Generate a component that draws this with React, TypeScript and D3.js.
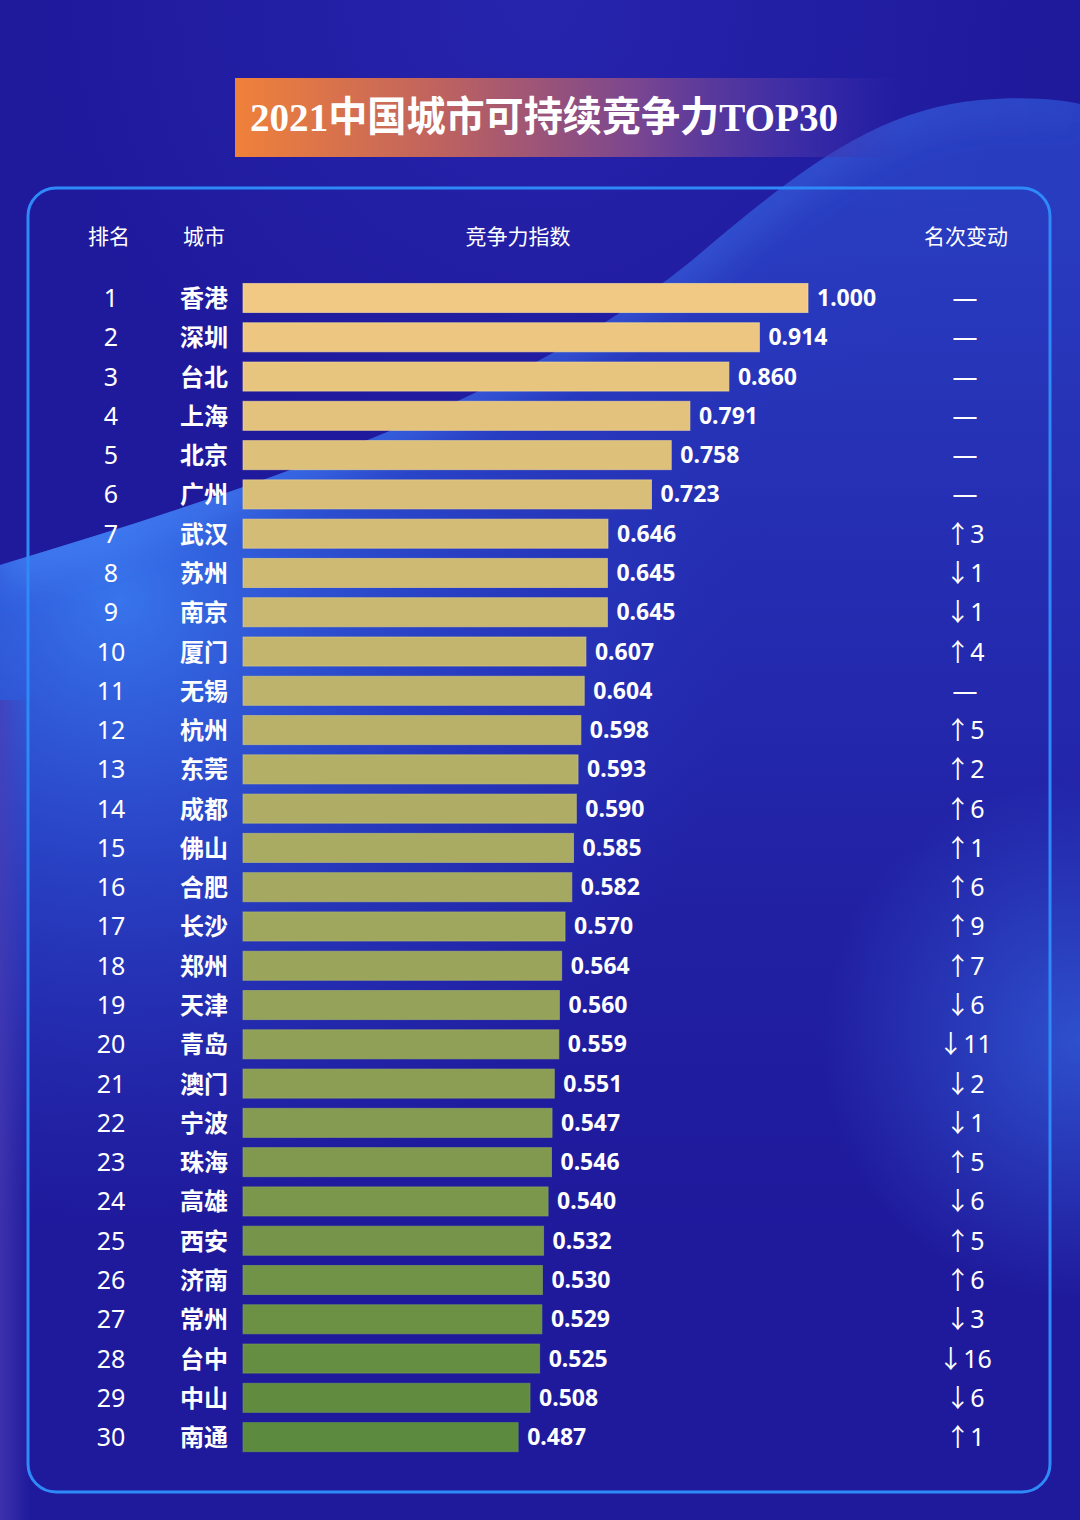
import React from 'react';
import * as d3 from 'd3';

const ranks = [1, 2, 3, 4, 5, 6, 7, 8, 9, 10, 11, 12, 13, 14, 15, 16, 17, 18, 19, 20, 21, 22, 23, 24, 25, 26, 27, 28, 29, 30];
const cities = ['香港', '深圳', '台北', '上海', '北京', '广州', '武汉', '苏州', '南京', '厦门', '无锡', '杭州', '东莞', '成都', '佛山', '合肥', '长沙', '郑州', '天津', '青岛', '澳门', '宁波', '珠海', '高雄', '西安', '济南', '常州', '台中', '中山', '南通'];
const values = [1.0, 0.914, 0.86, 0.791, 0.758, 0.723, 0.646, 0.645, 0.645, 0.607, 0.604, 0.598, 0.593, 0.59, 0.585, 0.582, 0.57, 0.564, 0.56, 0.559, 0.551, 0.547, 0.546, 0.54, 0.532, 0.53, 0.529, 0.525, 0.508, 0.487];
const changes = ['—', '—', '—', '—', '—', '—', '↑3', '↓1', '↓1', '↑4', '—', '↑5', '↑2', '↑6', '↑1', '↑6', '↑9', '↑7', '↓6', '↓11', '↓2', '↓1', '↑5', '↓6', '↑5', '↑6', '↓3', '↓16', '↓6', '↑1'];
const headers = ['排名', '城市', '竞争力指数', '名次变动'];
const title = '2021中国城市可持续竞争力TOP30';

const W = 1080;
const H = 1520;
const SANS = '"Noto Sans", "Noto Sans CJK SC", "DejaVu Sans", sans-serif';
const CJK = '"Noto Sans CJK SC", "Noto Sans", sans-serif';

export default function App() {
  const x = d3.scaleLinear().domain([0, 1]).range([243, 808]);
  const y = d3
    .scaleBand<number>()
    .domain(ranks)
    .range([278.36, 278.36 + 30 * 39.28])
    .paddingInner(0.26)
    .paddingOuter(0.13);
  const color = d3
    .scaleLinear<string>()
    .domain([1, 30])
    .range(['#f2c984', '#5c8a3e'])
    .interpolate(d3.interpolateRgb);
  const bw = y.bandwidth();
  const cy = (r: number) => (y(r) as number) + bw / 2;

  const blob = 'M0,565 C250,490 520,400 690,262 C790,178 870,110 980,100 C1030,96 1060,100 1080,104 L1080,1520 L0,1520 Z';
  const edge = 'M0,565 C250,490 520,400 690,262 C790,178 870,110 980,100 C1030,96 1060,100 1080,104';

  return (
    <svg
      width={W}
      height={H}
      viewBox={`0 0 ${W} ${H}`}
      style={{ position: 'absolute', left: 0, top: 0, display: 'block' }}
    >
      <defs>
        <linearGradient id="bandFill" x1="600" y1="200" x2="600" y2="1300" gradientUnits="userSpaceOnUse">
          <stop offset="0" stopColor="#2c48cc" stopOpacity="0.75" />
          <stop offset="0.5" stopColor="#2a3ec6" stopOpacity="0.35" />
          <stop offset="1" stopColor="#221c9e" stopOpacity="0" />
        </linearGradient>
        <radialGradient id="leftBright" cx="120" cy="600" r="620" gradientUnits="userSpaceOnUse">
          <stop offset="0" stopColor="#3a7cf2" stopOpacity="0.9" />
          <stop offset="0.45" stopColor="#2f5ee0" stopOpacity="0.5" />
          <stop offset="1" stopColor="#2a40c8" stopOpacity="0" />
        </radialGradient>
        <linearGradient id="edgeGrad" x1="0" y1="0" x2="1080" y2="0" gradientUnits="userSpaceOnUse">
          <stop offset="0" stopColor="#4a8cff" stopOpacity="0.6" />
          <stop offset="0.5" stopColor="#4a8cff" stopOpacity="0.35" />
          <stop offset="1" stopColor="#4a8cff" stopOpacity="0.12" />
        </linearGradient>
        <radialGradient id="rightGlow" cx="1080" cy="1040" r="260" gradientUnits="userSpaceOnUse">
          <stop offset="0" stopColor="#3466e0" stopOpacity="0.7" />
          <stop offset="1" stopColor="#3466e0" stopOpacity="0" />
        </radialGradient>
        <radialGradient id="topGlow" cx="540" cy="0" r="500" gradientUnits="userSpaceOnUse">
          <stop offset="0" stopColor="#2c2ab8" stopOpacity="0.6" />
          <stop offset="1" stopColor="#2c2ab8" stopOpacity="0" />
        </radialGradient>
        <linearGradient id="leftStrip" x1="0" y1="0" x2="30" y2="0" gradientUnits="userSpaceOnUse">
          <stop offset="0" stopColor="#4a3cb4" stopOpacity="0.7" />
          <stop offset="1" stopColor="#4a3cb4" stopOpacity="0" />
        </linearGradient>
        <linearGradient id="titleGrad" x1="235" y1="0" x2="905" y2="0" gradientUnits="userSpaceOnUse">
          <stop offset="0" stopColor="#f0813a" />
          <stop offset="0.3" stopColor="#c0635e" />
          <stop offset="0.6" stopColor="#7a4690" />
          <stop offset="0.85" stopColor="#4a34a8" stopOpacity="0.6" />
          <stop offset="1" stopColor="#3a2cac" stopOpacity="0" />
        </linearGradient>
        <filter id="blur20" x="-20%" y="-20%" width="140%" height="140%">
          <feGaussianBlur stdDeviation="18" />
        </filter>
        <clipPath id="blobClip">
          <path d={blob} />
        </clipPath>
      </defs>

      <rect x={0} y={0} width={W} height={H} fill="#1f1a9c" />
      <rect x={0} y={0} width={W} height={500} fill="url(#topGlow)" />
      <path d={blob} fill="url(#bandFill)" />
      <g clipPath="url(#blobClip)">
        <rect x={0} y={0} width={W} height={H} fill="url(#leftBright)" />
        <path d={edge} fill="none" stroke="url(#edgeGrad)" strokeWidth={40} filter="url(#blur20)" />
      </g>
      <rect x={0} y={700} width={40} height={H - 700} fill="url(#leftStrip)" />
      <rect x={700} y={760} width={380} height={560} fill="url(#rightGlow)" />

      <rect x={235} y={78} width={670} height={79} fill="url(#titleGrad)" />
      <text
        x={544}
        y={131}
        textAnchor="middle"
        fill="#ffffff"
        fontSize={41}
        fontWeight="bold"
        fontFamily='"Liberation Serif", "DejaVu Serif", "Noto Sans CJK SC", serif'
        textLength={588}
        lengthAdjust="spacingAndGlyphs"
      >
        {title}
      </text>

      <rect x={28} y={188} width={1022} height={1304} rx={28} ry={28} fill="none" stroke="#2e8af8" strokeWidth={3} />

      <g fill="#ffffff" fontFamily={CJK} fontSize={21} textAnchor="middle">
        {[109, 204, 518, 966].map((hx, i) => (
          <text key={headers[i]} x={hx} y={244}>
            {headers[i]}
          </text>
        ))}
      </g>

      <g>
        {ranks.map((r, i) => (
          <g key={r}>
            <text x={111} y={cy(r) + 9} textAnchor="middle" fill="#ffffff" fontFamily={SANS} fontSize={25}>
              {r}
            </text>
            <text x={204} y={cy(r) + 9} textAnchor="middle" fill="#ffffff" fontFamily={CJK} fontWeight="bold" fontSize={24}>
              {cities[i]}
            </text>
            <rect
              x={x(0)}
              y={y(r)}
              width={x(values[i]) - x(0)}
              height={bw}
              fill={color(r)}
              stroke={d3.color(color(r))!.brighter(0.4).formatHex()}
              strokeOpacity={0.6}
              strokeWidth={1}
            />
            <text
              x={x(values[i]) + 9}
              y={cy(r) + 8}
              fill="#ffffff"
              fontFamily={SANS}
              fontWeight="bold"
              fontSize={23}
            >
              {values[i].toFixed(3)}
            </text>
            <text x={965} y={cy(r) + 9} textAnchor="middle" fill="#ffffff" fontFamily={SANS} fontSize={25}>
              {changes[i]}
            </text>
          </g>
        ))}
      </g>
    </svg>
  );
}
